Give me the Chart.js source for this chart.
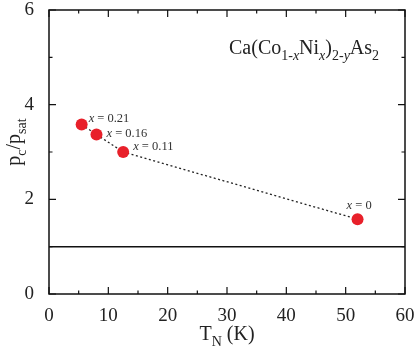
<!DOCTYPE html>
<html>
<head>
<meta charset="utf-8">
<script src="https://cdn.jsdelivr.net/npm/chart.js@4/dist/chart.umd.min.js"></script>
<style>
  html, body { margin: 0; padding: 0; background: #fff; overflow: hidden; }
  #wrap { width: 416px; height: 350px; }
</style>
</head>
<body>
<div id="wrap"><canvas id="chart"></canvas></div>
<script>
// data
const tN = [5.5, 8, 12.5, 52];
const pRatio = [3.58, 3.37, 3.0, 1.58];
const xLabels = ['0.21', '0.16', '0.11', '0'];
const refLevel = [1, 1];
const refRange = [0, 60];

const SERIF = '"Liberation Serif", "DejaVu Serif", serif';

// draw text pieces with sub/italic in a row
function drawRich(ctx, parts, x, y, size, color) {
    let cx = x;
    parts.forEach(p => {
        const s = p.sub ? size * 0.7 : size;
        ctx.font = (p.italic ? 'italic ' : '') + s + 'px ' + SERIF;
        ctx.fillStyle = color;
        ctx.fillText(p.t, cx, y + (p.sub ? size * 0.3 : 0));
        cx += ctx.measureText(p.t).width;
    });
    return cx - x;
}
function richWidth(ctx, parts, size) {
    let w = 0;
    parts.forEach(p => {
        const s = p.sub ? size * 0.7 : size;
        ctx.font = (p.italic ? 'italic ' : '') + s + 'px ' + SERIF;
        w += ctx.measureText(p.t).width;
    });
    return w;
}

const decorPlugin = {
    id: 'decor',
    afterDatasetsDraw(chart) {
        const ctx = chart.ctx;
        const a = chart.chartArea;
        const xs = chart.scales.x, ys = chart.scales.y;
        ctx.save();
        ctx.textBaseline = 'alphabetic';

        // frame
        ctx.strokeStyle = '#111';
        ctx.lineWidth = 1.5;
        ctx.strokeRect(a.left, a.top, a.right - a.left, a.bottom - a.top);

        // inward ticks
        ctx.lineWidth = 1.2;
        ctx.beginPath();
        for (let v = 0; v <= 60; v += 5) {
            const px = xs.getPixelForValue(v);
            const len = v % 10 === 0 ? 7 : 3.5;
            ctx.moveTo(px, a.bottom); ctx.lineTo(px, a.bottom - len);
            ctx.moveTo(px, a.top); ctx.lineTo(px, a.top + len);
        }
        for (let v = 0; v <= 6; v += 1) {
            const py = ys.getPixelForValue(v);
            const len = v % 2 === 0 ? 7 : 3.5;
            ctx.moveTo(a.left, py); ctx.lineTo(a.left + len, py);
            ctx.moveTo(a.right, py); ctx.lineTo(a.right - len, py);
        }
        ctx.stroke();

        // point annotations
        const offs = [[7, -3], [10, 3], [10, -2], [-11, -10]];
        tN.forEach((t, i) => {
            const px = xs.getPixelForValue(t);
            const py = ys.getPixelForValue(pRatio[i]);
            drawRich(ctx, [{ t: 'x', italic: true }, { t: ' = ' + xLabels[i] }],
                px + offs[i][0], py + offs[i][1], 12.5, '#333');
        });

        // formula
        drawRich(ctx, [
            { t: 'Ca(Co' }, { t: '1-', sub: true }, { t: 'x', sub: true, italic: true },
            { t: 'Ni' }, { t: 'x', sub: true, italic: true }, { t: ')' },
            { t: '2-', sub: true }, { t: 'y', sub: true, italic: true },
            { t: 'As' }, { t: '2', sub: true }
        ], 229, 54, 20, '#222');

        // x title
        const xt = [{ t: 'T' }, { t: 'N', sub: true }, { t: ' (K)' }];
        const xw = richWidth(ctx, xt, 20);
        drawRich(ctx, xt, (a.left + a.right) / 2 - xw / 2, 340, 20, '#222');

        // y title
        const yt = [{ t: 'p' }, { t: 'c', sub: true }, { t: '/p' }, { t: 'sat', sub: true }];
        const yw = richWidth(ctx, yt, 20);
        ctx.translate(20, 142);
        ctx.rotate(-Math.PI / 2);
        drawRich(ctx, yt, -yw / 2, 0, 20, '#222');
        ctx.restore();
    }
};

new Chart(document.getElementById('chart'), {
    type: 'scatter',
    data: {
        datasets: [{
            data: tN.map((t, i) => ({ x: t, y: pRatio[i] })),
            showLine: true,
            borderColor: '#222',
            borderWidth: 1.3,
            borderDash: [2, 2.5],
            pointRadius: 6,
            pointBackgroundColor: '#e8202a',
            pointBorderColor: '#e8202a',
            pointBorderWidth: 0,
            order: 1
        }, {
            data: refRange.map((t, i) => ({ x: t, y: refLevel[i] })),
            showLine: true,
            borderColor: '#111',
            borderWidth: 1.5,
            pointRadius: 0,
            order: 2
        }]
    },
    options: {
        responsive: true,
        maintainAspectRatio: false,
        animation: false,
        layout: { padding: { top: 10, right: 11, left: 0, bottom: 0 } },
        plugins: { legend: { display: false }, tooltip: { enabled: false } },
        scales: {
            x: {
                type: 'linear', min: 0, max: 60,
                ticks: { stepSize: 10, color: '#222', padding: 3, maxRotation: 0,
                         font: { family: SERIF, size: 19 } },
                grid: { display: false },
                border: { display: false },
                afterFit(s) { s.height = 56; s.paddingLeft = 0; s.paddingRight = 0; }
            },
            y: {
                min: 0, max: 6,
                ticks: { stepSize: 2, color: '#222', padding: 7,
                         font: { family: SERIF, size: 19 } },
                grid: { display: false },
                border: { display: false },
                afterFit(s) { s.width = 49; s.paddingTop = 0; s.paddingBottom = 0; }
            }
        }
    },
    plugins: [decorPlugin]
});
</script>
</body>
</html>
